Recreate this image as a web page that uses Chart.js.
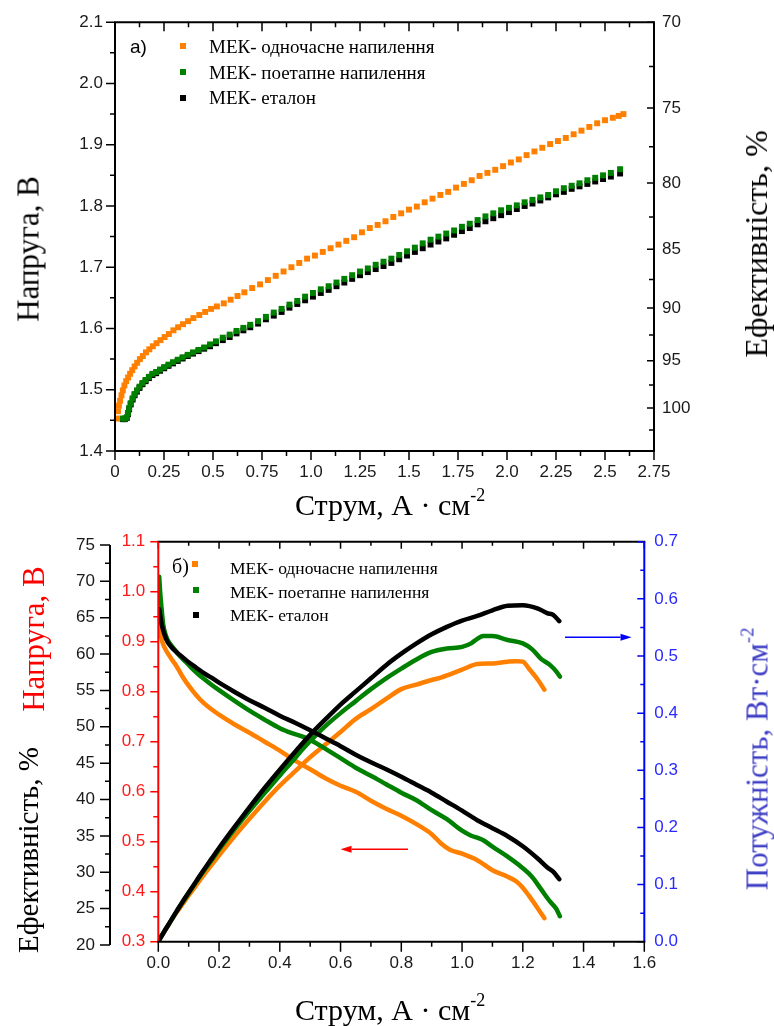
<!DOCTYPE html>
<html lang="uk"><head><meta charset="utf-8">
<title>МЕК</title>
<script src="https://cdn.jsdelivr.net/npm/chart.js@4.4.1/dist/chart.umd.min.js"></script>
<style>
html,body{margin:0;padding:0;background:#fff;}
#wrap{position:relative;width:774px;height:1026px;overflow:hidden;background:#fff;}
canvas{position:absolute;left:0;display:block;}
.t{position:absolute;white-space:nowrap;line-height:1;font-family:'Liberation Serif','Times New Roman',serif;color:#000;z-index:2;}
.rot{transform:translate(-50%,-50%) rotate(-90deg);}
.sup{font-size:0.6em;position:relative;top:-0.78em;}
.mk{position:absolute;width:6px;height:6px;z-index:2;}
</style></head><body>
<div id="wrap">
<canvas id="c1" width="774" height="515" style="top:0;width:774px;height:515px"></canvas>
<canvas id="c2" width="774" height="511" style="top:515px;width:774px;height:511px"></canvas>

<div class="t" style="left:130px;top:37px;font-size:19px;font-family:'Liberation Sans',Arial,sans-serif">а)</div>
<div class="t rot" style="left:27.5px;top:249px;font-size:31px">Напруга, В</div>
<div class="t rot" style="left:756px;top:244px;font-size:32px">Ефективність, %</div>
<div class="t" style="left:295px;top:490px;font-size:30px">Струм, А · см<span class="sup">-2</span></div>

<div class="t" style="left:172px;top:556px;font-size:20px">б)</div>
<div class="t rot" style="left:33px;top:639px;font-size:31px;color:#ff0000">Напруга, В</div>
<div class="t rot" style="left:27.5px;top:850px;font-size:29px">Ефективність, %</div>
<div class="t rot" style="left:756.5px;top:759px;font-size:31px;color:#3d3dc4">Потужність, Вт·см<span class="sup">-2</span></div>
<div class="t" style="left:295px;top:995px;font-size:30px">Струм, А · см<span class="sup">-2</span></div>
</div>
<script>
// ---------- series ----------
const seriesNames = ['МЕК- одночасне напилення', 'МЕК- поетапне напилення', 'МЕК- еталон'];
const seriesColors = ['#ff8000', '#008000', '#000000'];

// Panel а) : voltage (V) vs current density (A/cm2)
const iOdnA = [0.010,0.015,0.020,0.026,0.033,0.040,0.048,0.057,0.067,0.077,0.088,0.100,0.113,0.127,0.142,0.158,0.175,0.193,0.212,0.232,0.253,0.275,0.298,0.322,0.347,0.373,0.400,0.430,0.460,0.490,0.520,0.555,0.590,0.625,0.660,0.700,0.740,0.780,0.820,0.860,0.900,0.940,0.980,1.020,1.060,1.100,1.140,1.180,1.220,1.260,1.300,1.340,1.380,1.420,1.460,1.500,1.540,1.580,1.620,1.660,1.700,1.740,1.780,1.820,1.860,1.900,1.940,1.980,2.020,2.060,2.100,2.140,2.180,2.220,2.260,2.300,2.340,2.380,2.420,2.460,2.500,2.540,2.570,2.594];
const uOdnA = [1.453,1.465,1.474,1.482,1.491,1.499,1.507,1.514,1.520,1.526,1.532,1.538,1.544,1.550,1.555,1.561,1.566,1.571,1.576,1.581,1.586,1.591,1.597,1.602,1.607,1.612,1.617,1.622,1.627,1.632,1.636,1.641,1.647,1.653,1.659,1.666,1.672,1.679,1.686,1.693,1.700,1.707,1.714,1.719,1.725,1.731,1.737,1.743,1.749,1.757,1.764,1.769,1.775,1.782,1.788,1.794,1.799,1.806,1.812,1.818,1.823,1.830,1.836,1.842,1.849,1.854,1.859,1.865,1.871,1.876,1.883,1.889,1.895,1.901,1.906,1.911,1.917,1.923,1.929,1.935,1.940,1.944,1.947,1.950];
const iPoetA = [0.040,0.050,0.060,0.066,0.072,0.080,0.090,0.100,0.112,0.125,0.140,0.156,0.173,0.191,0.210,0.230,0.251,0.273,0.296,0.320,0.345,0.371,0.398,0.426,0.455,0.485,0.515,0.550,0.585,0.620,0.655,0.690,0.730,0.770,0.810,0.850,0.890,0.930,0.970,1.010,1.050,1.090,1.130,1.170,1.210,1.250,1.290,1.330,1.370,1.410,1.450,1.490,1.530,1.570,1.610,1.650,1.690,1.730,1.770,1.810,1.850,1.890,1.930,1.970,2.010,2.050,2.090,2.130,2.170,2.210,2.250,2.290,2.330,2.370,2.410,2.450,2.490,2.530,2.577];
const uPoetA = [1.453,1.453,1.455,1.462,1.470,1.478,1.486,1.493,1.499,1.505,1.511,1.516,1.521,1.526,1.529,1.533,1.537,1.541,1.545,1.549,1.553,1.557,1.561,1.565,1.569,1.574,1.579,1.585,1.590,1.596,1.601,1.606,1.612,1.619,1.626,1.632,1.639,1.645,1.652,1.658,1.664,1.669,1.675,1.681,1.687,1.693,1.698,1.704,1.709,1.714,1.720,1.726,1.732,1.739,1.745,1.750,1.755,1.760,1.766,1.771,1.777,1.783,1.788,1.793,1.797,1.801,1.806,1.810,1.814,1.818,1.824,1.829,1.833,1.837,1.842,1.846,1.850,1.854,1.860];
const iEtA = [0.040,0.050,0.060,0.066,0.072,0.080,0.090,0.100,0.112,0.125,0.140,0.156,0.173,0.191,0.210,0.230,0.251,0.273,0.296,0.320,0.345,0.371,0.398,0.426,0.455,0.485,0.515,0.550,0.585,0.620,0.655,0.690,0.730,0.770,0.810,0.850,0.890,0.930,0.970,1.010,1.050,1.090,1.130,1.170,1.210,1.250,1.290,1.330,1.370,1.410,1.450,1.490,1.530,1.570,1.610,1.650,1.690,1.730,1.770,1.810,1.850,1.890,1.930,1.970,2.010,2.050,2.090,2.130,2.170,2.210,2.250,2.290,2.330,2.370,2.410,2.450,2.490,2.530,2.577];
const uEtA = [1.452,1.452,1.454,1.460,1.468,1.476,1.484,1.491,1.497,1.503,1.509,1.514,1.519,1.524,1.527,1.531,1.535,1.539,1.543,1.547,1.551,1.555,1.559,1.563,1.567,1.571,1.576,1.581,1.586,1.592,1.597,1.602,1.608,1.615,1.621,1.627,1.634,1.640,1.646,1.652,1.658,1.663,1.669,1.675,1.681,1.687,1.692,1.697,1.702,1.707,1.713,1.719,1.725,1.731,1.737,1.742,1.747,1.753,1.759,1.764,1.770,1.775,1.780,1.785,1.790,1.795,1.800,1.804,1.809,1.814,1.819,1.823,1.828,1.832,1.836,1.840,1.844,1.848,1.853];

// Panel б) : voltage (V) and power (W/cm2) vs current density
const iOdnB = [0.003,0.006,0.011,0.020,0.030,0.045,0.060,0.080,0.100,0.125,0.150,0.175,0.200,0.250,0.300,0.350,0.400,0.450,0.500,0.550,0.600,0.650,0.700,0.750,0.800,0.850,0.900,0.930,0.960,1.000,1.050,1.100,1.150,1.180,1.200,1.220,1.250,1.271];
const uOdnB = [0.940,0.925,0.905,0.889,0.878,0.864,0.851,0.830,0.812,0.793,0.777,0.765,0.754,0.735,0.718,0.700,0.682,0.662,0.645,0.627,0.612,0.600,0.582,0.566,0.552,0.535,0.515,0.497,0.484,0.476,0.463,0.443,0.430,0.420,0.408,0.392,0.366,0.347];
const pOdnB = [0.003,0.006,0.010,0.018,0.026,0.039,0.051,0.066,0.081,0.099,0.117,0.134,0.151,0.184,0.215,0.245,0.273,0.298,0.323,0.345,0.367,0.390,0.407,0.425,0.442,0.450,0.458,0.462,0.468,0.476,0.486,0.487,0.490,0.491,0.490,0.478,0.458,0.441];
const iPoetB = [0.003,0.006,0.011,0.016,0.025,0.035,0.050,0.070,0.090,0.110,0.130,0.150,0.175,0.200,0.250,0.300,0.350,0.400,0.440,0.480,0.520,0.560,0.600,0.650,0.700,0.750,0.800,0.850,0.900,0.950,1.000,1.030,1.050,1.070,1.100,1.150,1.200,1.230,1.260,1.290,1.310,1.322];
const uPoetB = [1.030,1.000,0.965,0.935,0.912,0.899,0.887,0.872,0.860,0.847,0.836,0.826,0.814,0.803,0.782,0.762,0.744,0.727,0.717,0.709,0.697,0.682,0.667,0.648,0.632,0.615,0.598,0.583,0.563,0.545,0.522,0.512,0.508,0.503,0.490,0.470,0.447,0.430,0.405,0.380,0.366,0.351];
const pPoetB = [0.003,0.006,0.011,0.015,0.023,0.031,0.044,0.061,0.077,0.093,0.109,0.124,0.142,0.161,0.196,0.229,0.260,0.291,0.315,0.340,0.362,0.382,0.400,0.421,0.442,0.461,0.478,0.494,0.507,0.513,0.516,0.522,0.530,0.535,0.535,0.528,0.522,0.512,0.495,0.484,0.473,0.464];
const iEtB = [0.003,0.011,0.020,0.030,0.045,0.060,0.080,0.100,0.125,0.150,0.175,0.200,0.250,0.300,0.350,0.400,0.450,0.500,0.550,0.600,0.650,0.700,0.750,0.800,0.850,0.900,0.950,1.000,1.050,1.100,1.150,1.200,1.250,1.280,1.300,1.320];
const uEtB = [0.965,0.935,0.915,0.900,0.888,0.879,0.869,0.859,0.848,0.837,0.828,0.818,0.800,0.783,0.768,0.752,0.738,0.723,0.707,0.691,0.674,0.659,0.645,0.630,0.614,0.598,0.580,0.562,0.543,0.527,0.511,0.491,0.466,0.449,0.440,0.425];
const pEtB = [0.003,0.010,0.018,0.027,0.040,0.053,0.070,0.086,0.106,0.126,0.145,0.164,0.200,0.235,0.269,0.301,0.332,0.362,0.389,0.415,0.438,0.461,0.484,0.504,0.522,0.538,0.551,0.562,0.570,0.580,0.588,0.589,0.583,0.575,0.572,0.561];

// ---------- tick labels ----------
const aXTicks = [0,0.25,0.5,0.75,1,1.25,1.5,1.75,2,2.25,2.5,2.75];
const aXLabels = ['0','0.25','0.5','0.75','1.0','1.25','1.5','1.75','2.0','2.25','2.5','2.75'];
const aUTicks = [1.4,1.5,1.6,1.7,1.8,1.9,2.0,2.1];
const aULabels = ['1.4','1.5','1.6','1.7','1.8','1.9','2.0','2.1'];
const aEffLabels = [70,75,80,85,90,95,100];
const aEffMinor = [72.5,77.5,82.5,87.5,92.5,97.5,102.5];
const U_REF = 1.47; // efficiency scale reference voltage (100 %)

const bXTicks = [0,0.2,0.4,0.6,0.8,1.0,1.2,1.4,1.6];
const bXLabels = ['0.0','0.2','0.4','0.6','0.8','1.0','1.2','1.4','1.6'];
const bEffTicks = [20,25,30,35,40,45,50,55,60,65,70,75];
const bUTicks = [0.3,0.4,0.5,0.6,0.7,0.8,0.9,1.0,1.1];
const bULabels = ['0.3','0.4','0.5','0.6','0.7','0.8','0.9','1.0','1.1'];
const bPTicks = [0,0.1,0.2,0.3,0.4,0.5,0.6,0.7];
const bPLabels = ['0.0','0.1','0.2','0.3','0.4','0.5','0.6','0.7'];
const arrowsB = [
  {from:1.339, to:1.558, at:0.533, axis:'yP', color:'#0000ff'},
  {from:0.822, to:0.600, at:0.485, axis:'yV', color:'#ff0000'}
];

// ---------- helpers ----------
const pts = (xs, ys) => xs.map((x, i) => ({x: x, y: ys[i]}));
const mids = arr => arr.slice(1).map((v, i) => (v + arr[i]) / 2);
const tickFont = {family:"'Liberation Sans', Arial, sans-serif", size:17};
const fixedTicks = values => (a => { a.ticks = values.map(v => ({value: v})); });
function axis(extra) {
  return Object.assign({type:'linear', grid:{display:false, drawTicks:false}, border:{display:false}}, extra);
}
function tk(labels, color, padding) {
  return {autoSkip:false, maxRotation:0, minRotation:0, padding:padding, font:tickFont, color:color,
          callback:(v, i) => labels[i]};
}
function tickPlugin(specs) {
  return {id:'axisTicks', afterDraw(chart) {
    const ctx = chart.ctx, ca = chart.chartArea;
    specs.forEach(s => {
      const sc = chart.scales[s.scale];
      const horiz = sc.isHorizontal();
      const edge = s.edge === 'areaTop' ? ca.top : s.edge === 'scaleTop' ? sc.top :
                   s.edge === 'scaleRight' ? sc.right : sc.left;
      ctx.save();
      ctx.strokeStyle = s.color;
      if (s.line) {
        ctx.lineWidth = s.lw;
        ctx.beginPath();
        const a = sc.getPixelForValue(s.line[0]), b = sc.getPixelForValue(s.line[1]);
        if (horiz) { ctx.moveTo(a - s.lw / 2, edge); ctx.lineTo(b + s.lw / 2, edge); }
        else { ctx.moveTo(edge, a); ctx.lineTo(edge, b); }
        ctx.stroke();
      }
      ctx.lineWidth = s.tw;
      ctx.beginPath();
      const mk = (vals, len) => vals.forEach(v => {
        const p = sc.getPixelForValue(v);
        if (horiz) { ctx.moveTo(p, edge); ctx.lineTo(p, edge + s.dir * len); }
        else { ctx.moveTo(edge, p); ctx.lineTo(edge + s.dir * len, p); }
      });
      mk(s.major, s.len[0]);
      mk(s.minor, s.len[1]);
      ctx.stroke();
      ctx.restore();
    });
  }};
}
function arrowPlugin(items) {
  return {id:'arrows', afterDatasetsDraw(chart) {
    const ctx = chart.ctx, xs = chart.scales.x;
    items.forEach(a => {
      const ys = chart.scales[a.axis];
      const x0 = xs.getPixelForValue(a.from), x1 = xs.getPixelForValue(a.to), y = ys.getPixelForValue(a.at);
      const dir = Math.sign(x1 - x0), head = 11, hw = 3.5;
      ctx.save();
      ctx.strokeStyle = a.color; ctx.fillStyle = a.color; ctx.lineWidth = 1.5;
      ctx.beginPath(); ctx.moveTo(x0, y); ctx.lineTo(x1 - dir * head, y); ctx.stroke();
      ctx.beginPath(); ctx.moveTo(x1, y); ctx.lineTo(x1 - dir * head, y - hw); ctx.lineTo(x1 - dir * head, y + hw);
      ctx.closePath(); ctx.fill();
      ctx.restore();
    });
  }};
}

// ---------- legends (HTML text) ----------
const wrap = document.getElementById('wrap');
function legend(x0Mark, marks, x0Text, tops, size) {
  seriesNames.forEach((n, i) => {
    const m = document.createElement('div');
    m.className = 'mk';
    m.style.left = (marks[i][0] - 3) + 'px'; m.style.top = (marks[i][1] - 3) + 'px';
    m.style.background = seriesColors[i];
    wrap.appendChild(m);
    const t = document.createElement('div');
    t.className = 't';
    t.style.left = x0Text + 'px'; t.style.top = tops[i] + 'px'; t.style.fontSize = size + 'px';
    t.textContent = n;
    wrap.appendChild(t);
  });
}
legend(0, [[183,46],[183,72],[183,98]], 209, [37.4,63.1,88.1], 19);
legend(0, [[195,564],[196,590],[196,615]], 230, [560.3,584.3,607.3], 17.5);

// ---------- chart а) ----------
const rectPt = {pointStyle:'rect', pointRadius:4.2, pointHoverRadius:4.2, pointBorderWidth:0, showLine:false, clip:false};
new Chart(document.getElementById('c1'), {
  type:'scatter',
  data:{datasets:[
    Object.assign({label:seriesNames[0], data:pts(iOdnA, uOdnA), backgroundColor:seriesColors[0], yAxisID:'y'}, rectPt),
    Object.assign({label:seriesNames[1], data:pts(iPoetA, uPoetA), backgroundColor:seriesColors[1], yAxisID:'y'}, rectPt),
    Object.assign({label:seriesNames[2], data:pts(iEtA, uEtA), backgroundColor:seriesColors[2], yAxisID:'y'}, rectPt)
  ]},
  options:{
    responsive:false, animation:false, events:[], devicePixelRatio:1,
    layout:{padding:{top:17, left:0, right:0, bottom:0}, autoPadding:false},
    plugins:{legend:{display:false}, tooltip:{enabled:false}},
    scales:{
      x:axis({position:'bottom', min:0, max:2.75, afterBuildTicks:fixedTicks(aXTicks),
              afterFit:s => { s.height = 64; }, ticks:tk(aXLabels, '#1a1a1a', 11)}),
      y:axis({position:'left', min:1.4, max:2.1, afterBuildTicks:fixedTicks(aUTicks),
              afterFit:s => { s.width = 115; }, ticks:tk(aULabels, '#1a1a1a', 12)}),
      y2:axis({position:'right', min:1.4, max:2.1,
              afterBuildTicks:fixedTicks(aEffLabels.map(e => U_REF * 100 / e)),
              afterFit:s => { s.width = 120; }, ticks:tk(aEffLabels.map(String), '#1a1a1a', 8)})
    }
  },
  plugins:[tickPlugin([
    {scale:'x', edge:'scaleTop', dir:1, major:aXTicks, minor:mids(aXTicks), len:[9,5], color:'#000', tw:1.5, lw:2, line:[0,2.75]},
    {scale:'x', edge:'areaTop', dir:1, major:aXTicks, minor:mids(aXTicks), len:[9,5], color:'#000', tw:1.5, lw:2, line:[0,2.75]},
    {scale:'y', edge:'scaleRight', dir:-1, major:aUTicks, minor:mids(aUTicks), len:[9,5], color:'#000', tw:1.5, lw:2, line:[1.4,2.1]},
    {scale:'y2', edge:'scaleLeft', dir:-1, major:aEffLabels.map(e => U_REF * 100 / e), minor:aEffMinor.map(e => U_REF * 100 / e), len:[7,5], color:'#000', tw:1.5, lw:2, line:[1.4,2.1]}
  ])]
});

// ---------- chart б) ----------
const lineDs = {showLine:true, pointRadius:0, pointHoverRadius:0, borderWidth:4.5, borderJoinStyle:'round', borderCapStyle:'round', cubicInterpolationMode:'monotone', fill:false};
new Chart(document.getElementById('c2'), {
  type:'scatter',
  data:{datasets:[
    Object.assign({label:seriesNames[2] + ' U', data:pts(iEtB, uEtB), borderColor:seriesColors[2], yAxisID:'yV'}, lineDs),
    Object.assign({label:seriesNames[2] + ' P', data:pts(iEtB, pEtB), borderColor:seriesColors[2], yAxisID:'yP'}, lineDs),
    Object.assign({label:seriesNames[1] + ' U', data:pts(iPoetB, uPoetB), borderColor:seriesColors[1], yAxisID:'yV'}, lineDs),
    Object.assign({label:seriesNames[1] + ' P', data:pts(iPoetB, pPoetB), borderColor:seriesColors[1], yAxisID:'yP'}, lineDs),
    Object.assign({label:seriesNames[0] + ' U', data:pts(iOdnB, uOdnB), borderColor:seriesColors[0], yAxisID:'yV'}, lineDs),
    Object.assign({label:seriesNames[0] + ' P', data:pts(iOdnB, pOdnB), borderColor:seriesColors[0], yAxisID:'yP'}, lineDs)
  ]},
  options:{
    responsive:false, animation:false, events:[], devicePixelRatio:1,
    layout:{padding:{top:26.7, left:0, right:0, bottom:0}, autoPadding:false},
    plugins:{legend:{display:false}, tooltip:{enabled:false}},
    scales:{
      x:axis({position:'bottom', min:0, max:1.6, afterBuildTicks:fixedTicks(bXTicks),
              afterFit:s => { s.height = 84.3; }, ticks:tk(bXLabels, '#1a1a1a', 11)}),
      yEff:axis({position:'left', weight:1, min:20.45, max:75.45, afterBuildTicks:fixedTicks(bEffTicks),
              afterFit:s => { s.width = 110; }, ticks:tk(bEffTicks.map(String), '#1a1a1a', 15)}),
      yV:axis({position:'left', weight:0, min:0.3, max:1.1, afterBuildTicks:fixedTicks(bUTicks),
              afterFit:s => { s.width = 48.3; }, ticks:tk(bULabels, '#ff1a1a', 13)}),
      yP:axis({position:'right', min:0, max:0.7, afterBuildTicks:fixedTicks(bPTicks),
              afterFit:s => { s.width = 129.7; }, ticks:tk(bPLabels, '#2a2aff', 10)})
    }
  },
  plugins:[arrowPlugin(arrowsB), tickPlugin([
    {scale:'x', edge:'areaTop', dir:1, major:bXTicks, minor:mids(bXTicks), len:[7,4], color:'#000', tw:1.5, lw:2, line:[0,1.6]},
    {scale:'yEff', edge:'scaleRight', dir:-1, major:bEffTicks, minor:mids(bEffTicks), len:[10,5], color:'#000', tw:1.5, lw:2, line:[20,75]},
    {scale:'yV', edge:'scaleRight', dir:-1, major:bUTicks, minor:mids(bUTicks), len:[8,5], color:'#ff0000', tw:1.5, lw:2, line:[0.3,1.1]},
    {scale:'yP', edge:'scaleLeft', dir:-1, major:bPTicks, minor:mids(bPTicks), len:[7,4], color:'#0000ff', tw:1.5, lw:2, line:[0,0.7]},
    {scale:'x', edge:'scaleTop', dir:1, major:bXTicks, minor:mids(bXTicks), len:[10,5], color:'#000', tw:1.5, lw:2, line:[0,1.6]}
  ])]
});
</script>
</body></html>
